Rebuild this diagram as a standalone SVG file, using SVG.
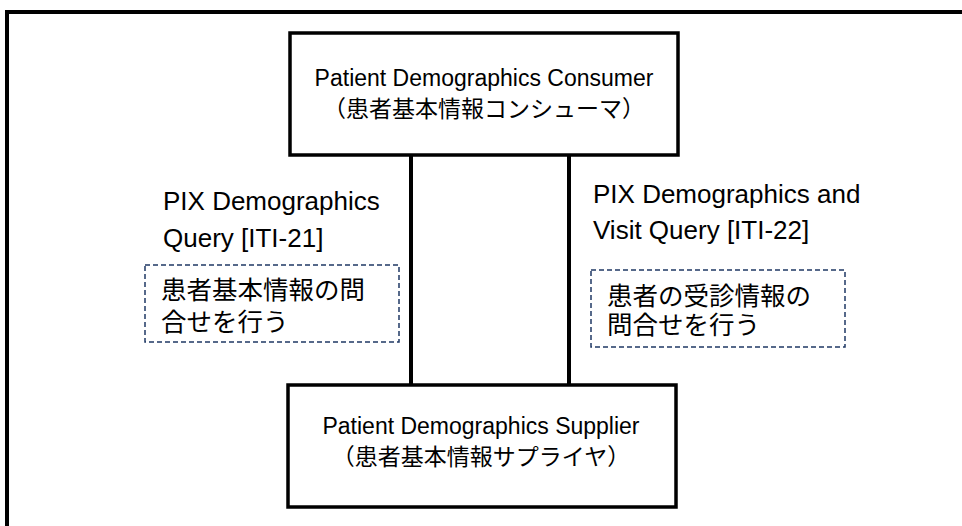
<svg xmlns="http://www.w3.org/2000/svg" width="962" height="526" viewBox="0 0 962 526">
  <style>
    .frame { fill: none; stroke: #000; stroke-width: 4; }
    .actor { fill: #fff; stroke: #000; stroke-width: 3.5; }
    .link { stroke: #000; stroke-width: 4; fill: none; }
    .note { fill: none; stroke: #1f3864; stroke-width: 1.5; stroke-dasharray: 5 3; }
    .en { font-family: "Liberation Sans", Arial, sans-serif; fill: #000; }
    .jp { font-family: "Noto Sans CJK JP", "Noto Sans CJK SC", sans-serif; fill: #000; }
    .box { font-size: 23px; text-anchor: middle; }
    .lbl { font-size: 26px; }
    .jpn { font-size: 25.5px; }
  </style>
  <rect width="962" height="526" fill="#fff"/>
  <!-- outer frame, running past the right and bottom edges -->
  <rect class="frame" x="7" y="12" width="980" height="540"/>

  <g id="connectors">
    <line class="link" x1="411" y1="155" x2="411" y2="385"/>
    <line class="link" x1="569" y1="155" x2="569" y2="385"/>
  </g>

  <g id="consumer">
    <rect class="actor" x="290" y="33" width="388" height="122"/>
    <text class="en box" x="484" y="86">Patient Demographics Consumer</text>
    <text class="jp box" x="484" y="117">（患者基本情報コンシューマ）</text>
  </g>

  <g id="supplier">
    <rect class="actor" x="288" y="385" width="388" height="122"/>
    <text class="en box" x="481" y="434">Patient Demographics Supplier</text>
    <text class="jp box" x="481" y="465">（患者基本情報サプライヤ）</text>
  </g>

  <g id="iti21">
    <text class="en lbl" x="163" y="210">PIX Demographics</text>
    <text class="en lbl" x="163" y="247">Query [ITI-21]</text>
    <rect class="note" x="145" y="265" width="254" height="77"/>
    <text class="jp jpn" x="161" y="299">患者基本情報の問</text>
    <text class="jp jpn" x="161" y="331">合せを行う</text>
  </g>

  <g id="iti22">
    <text class="en lbl" x="593" y="203">PIX Demographics and</text>
    <text class="en lbl" x="593" y="239">Visit Query [ITI-22]</text>
    <rect class="note" x="591" y="270" width="254" height="77"/>
    <text class="jp jpn" x="607" y="305">患者の受診情報の</text>
    <text class="jp jpn" x="607" y="334">問合せを行う</text>
  </g>
</svg>
